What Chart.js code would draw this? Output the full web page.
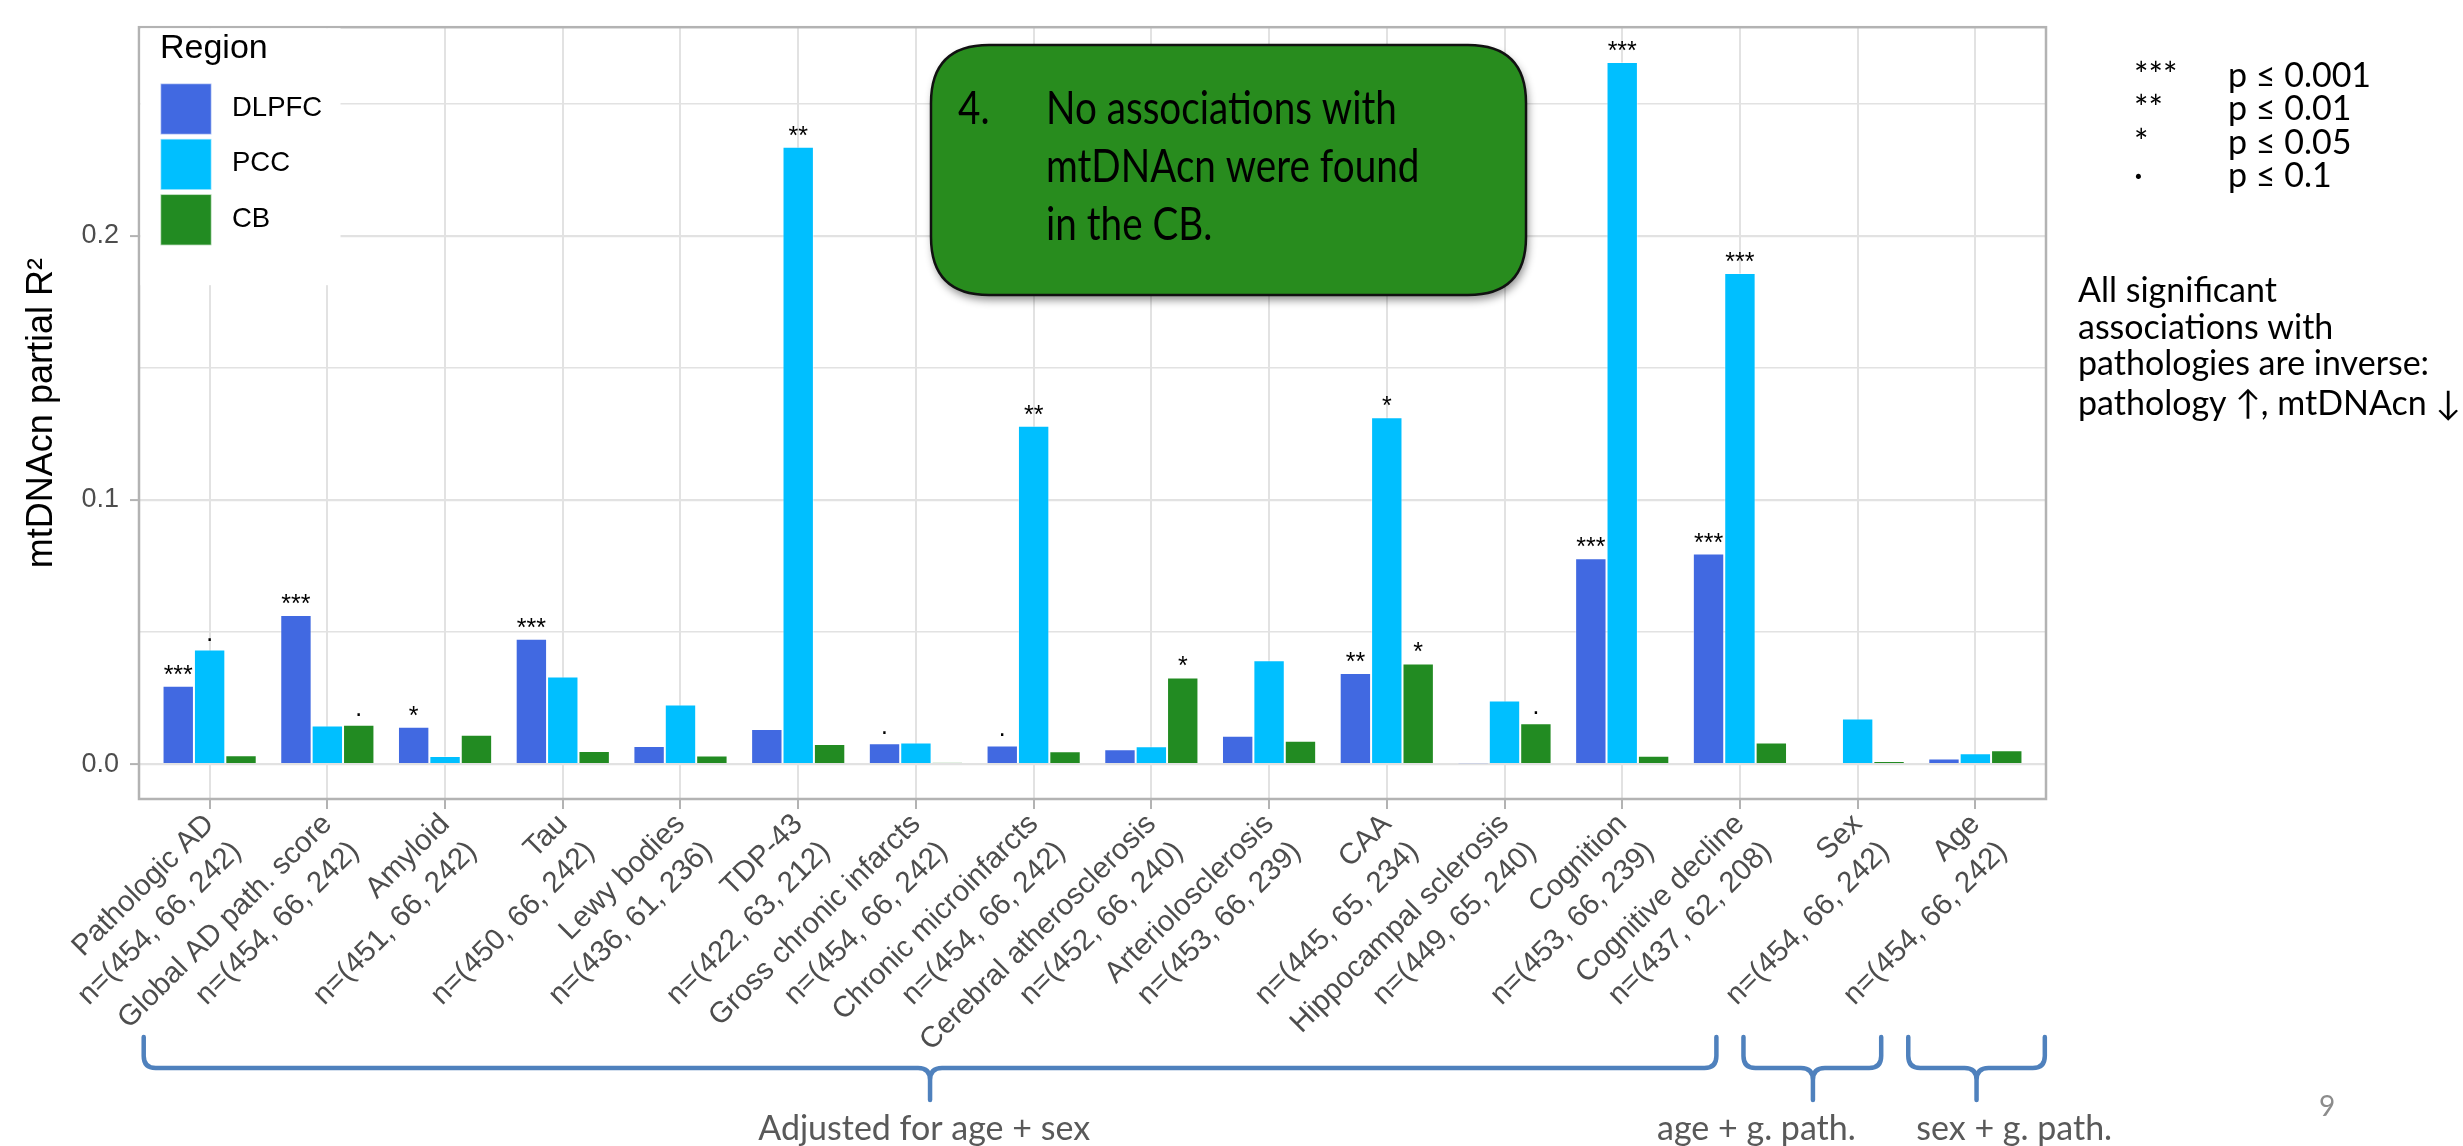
<!DOCTYPE html>
<html>
<head>
<meta charset="utf-8">
<title>mtDNAcn partial R² by region</title>
<script src="https://cdn.jsdelivr.net/npm/chart.js@4.4.1/dist/chart.umd.min.js"></script>
<style>
  html, body { margin: 0; padding: 0; background: #fff; }
  #wrap { position: relative; width: 2463px; height: 1146px; }
</style>
</head>
<body>
<div id="wrap"><canvas id="r2Chart"></canvas></div>
<script>
// ---------------------------------------------------------------
// Data
// ---------------------------------------------------------------
const traitLabels = [
  ['Pathologic AD', 'n=(454, 66, 242)'],
  ['Global AD path. score', 'n=(454, 66, 242)'],
  ['Amyloid', 'n=(451, 66, 242)'],
  ['Tau', 'n=(450, 66, 242)'],
  ['Lewy bodies', 'n=(436, 61, 236)'],
  ['TDP-43', 'n=(422, 63, 212)'],
  ['Gross chronic infarcts', 'n=(454, 66, 242)'],
  ['Chronic microinfarcts', 'n=(454, 66, 242)'],
  ['Cerebral atherosclerosis', 'n=(452, 66, 240)'],
  ['Arteriolosclerosis', 'n=(453, 66, 239)'],
  ['CAA', 'n=(445, 65, 234)'],
  ['Hippocampal sclerosis', 'n=(449, 65, 240)'],
  ['Cognition', 'n=(453, 66, 239)'],
  ['Cognitive decline', 'n=(437, 62, 208)'],
  ['Sex', 'n=(454, 66, 242)'],
  ['Age', 'n=(454, 66, 242)']
];

const regions = ['DLPFC', 'PCC', 'CB'];
const regionColors = ['#4169E1', '#00BFFF', '#228B22'];

const dlpfcR2 = [0.0297, 0.0565, 0.0142, 0.0475, 0.0069, 0.0133, 0.0079, 0.0071,
                 0.0056, 0.0107, 0.0345, 0.0002, 0.0779, 0.0797, 0.0005, 0.0021];
const pccR2   = [0.0434, 0.0146, 0.0031, 0.0332, 0.0226, 0.2337, 0.0082, 0.1281,
                 0.0068, 0.0393, 0.1313, 0.0241, 0.2658, 0.1859, 0.0173, 0.0041];
const cbR2    = [0.0034, 0.0149, 0.0111, 0.0050, 0.0033, 0.0076, 0.0006, 0.0049,
                 0.0328, 0.0089, 0.0381, 0.0155, 0.0032, 0.0082, 0.0012, 0.0053];

// significance marks above each bar
const dlpfcSig = ['***', '***', '*', '***', '', '', '·', '·', '', '', '**', '', '***', '***', '', ''];
const pccSig   = ['·', '', '', '', '', '**', '', '**', '', '', '*', '', '***', '***', '', ''];
const cbSig    = ['', '·', '', '', '', '', '', '', '*', '', '*', '·', '', '', '', ''];

const yMajorTicks = [0, 0.1, 0.2];

// covariate groups drawn under the axis: [from, tip, to] in category units
const adjustGroups = [
  { text: 'Adjusted for age + sex', span: [-0.56, 6.12, 12.8], textX: 6.07 },
  { text: 'age + g. path.', span: [13.03, 13.62, 14.2], textX: 13.14 },
  { text: 'sex + g. path.', span: [14.43, 15.01, 15.59], textX: 15.33 }
];

const pLegend = [['***', 'p ≤ 0.001'], ['**', 'p ≤ 0.01'], ['*', 'p ≤ 0.05'], ['·', 'p ≤ 0.1']];
const noteLines = ['All significant', 'associations with', 'pathologies are inverse:', 'pathology ↑, mtDNAcn ↓'];
const calloutLines = ['No associations with', 'mtDNAcn were found', 'in the CB.'];

// ---------------------------------------------------------------
// Helpers
// ---------------------------------------------------------------
const toPoints = arr => arr.map((v, i) => ({ x: i, y: v }));
const isMajor = v => yMajorTicks.some(t => Math.abs(t - v) < 1e-9);

function roundRect(ctx, x, y, w, h, r) {
  ctx.beginPath();
  ctx.moveTo(x + r, y);
  ctx.lineTo(x + w - r, y);
  ctx.quadraticCurveTo(x + w, y, x + w, y + r);
  ctx.lineTo(x + w, y + h - r);
  ctx.quadraticCurveTo(x + w, y + h, x + w - r, y + h);
  ctx.lineTo(x + r, y + h);
  ctx.quadraticCurveTo(x, y + h, x, y + h - r);
  ctx.lineTo(x, y + r);
  ctx.quadraticCurveTo(x, y, x + r, y);
  ctx.closePath();
}

// ---------------------------------------------------------------
// Panel border, inset legend and significance marks
// ---------------------------------------------------------------
const panelPlugin = {
  id: 'panelPlugin',
  afterDatasetsDraw(chart) {
    const { ctx, chartArea: a } = chart;
    ctx.save();

    // significance stars
    const sigs = [dlpfcSig, pccSig, cbSig];
    ctx.font = '25px "Liberation Sans", Arial, sans-serif';
    ctx.fillStyle = '#000';
    ctx.textAlign = 'center';
    ctx.textBaseline = 'alphabetic';
    sigs.forEach((sig, d) => {
      chart.getDatasetMeta(d).data.forEach((bar, i) => {
        if (sig[i]) ctx.fillText(sig[i], bar.x, bar.y - 3);
      });
    });

    // panel border
    ctx.strokeStyle = '#b3b3b3';
    ctx.lineWidth = 2.5;
    ctx.strokeRect(a.left, a.top, a.right - a.left, a.bottom - a.top);

    // legend box
    ctx.fillStyle = '#fff';
    ctx.fillRect(a.left + 1.5, a.top + 1, 200, 257);
    ctx.fillStyle = '#000';
    ctx.textAlign = 'left';
    ctx.font = '34px "Liberation Sans", Arial, sans-serif';
    ctx.fillText('Region', 160, 58);
    ctx.font = '27.5px "Liberation Sans", Arial, sans-serif';
    ctx.textBaseline = 'middle';
    regions.forEach((r, k) => {
      const ky = 83.5 + k * 55.4;
      ctx.fillStyle = regionColors[k];
      ctx.fillRect(160.5, ky, 51, 51);
      ctx.strokeStyle = 'rgba(255,255,255,0.6)';
      ctx.lineWidth = 1.5;
      ctx.strokeRect(160.5, ky, 51, 51);
      ctx.fillStyle = '#000';
      ctx.fillText(r, 232, ky + 25);
    });
    ctx.restore();
  }
};

// ---------------------------------------------------------------
// Slide annotations around the plot
// ---------------------------------------------------------------
const slidePlugin = {
  id: 'slidePlugin',
  afterDraw(chart) {
    const { ctx } = chart;
    const xs = chart.scales.x;
    ctx.save();

    // callout box
    ctx.save();
    ctx.shadowColor = 'rgba(0,0,0,0.45)';
    ctx.shadowBlur = 9;
    ctx.shadowOffsetX = 2;
    ctx.shadowOffsetY = 5;
    roundRect(ctx, 931, 45, 595, 250, 58);
    ctx.fillStyle = '#288C1E';
    ctx.fill();
    ctx.restore();
    roundRect(ctx, 931, 45, 595, 250, 58);
    ctx.strokeStyle = '#111';
    ctx.lineWidth = 2.5;
    ctx.stroke();

    // callout text, narrow face
    ctx.fillStyle = '#000';
    ctx.textAlign = 'left';
    ctx.textBaseline = 'alphabetic';
    ctx.font = '46px Lato, "Open Sans", sans-serif';
    ctx.save();
    ctx.scale(0.84, 1);
    ctx.fillText('4.', 958 / 0.84, 124);
    calloutLines.forEach((t, i) => ctx.fillText(t, 1046 / 0.84, 124 + i * 58));
    ctx.restore();

    // p-value key
    ctx.font = '34px Lato, "Open Sans", sans-serif';
    pLegend.forEach(([mark, txt], i) => {
      const by = 87 + i * 33.4;
      ctx.fillText(mark, 2134, by);
      ctx.fillText(txt, 2228, by);
    });

    // note
    ctx.font = '34px Lato, "Open Sans", sans-serif';
    noteLines.forEach((t, i) => ctx.fillText(t, 2078, 302 + i * 36.6 + (i === 3 ? 3 : 0)));

    // braces under the axis
    const yTop = 1037, yMid = 1068, yTip = 1100, r = 12;
    ctx.strokeStyle = '#4F81BD';
    ctx.lineWidth = 4.5;
    ctx.lineCap = 'round';
    ctx.lineJoin = 'round';
    adjustGroups.forEach(g => {
      const [x1, xc, x2] = g.span.map(v => xs.getPixelForValue(v));
      ctx.beginPath();
      ctx.moveTo(x1, yTop);
      ctx.lineTo(x1, yMid - r);
      ctx.quadraticCurveTo(x1, yMid, x1 + r, yMid);
      ctx.lineTo(xc - r, yMid);
      ctx.quadraticCurveTo(xc, yMid, xc, yMid + r);
      ctx.lineTo(xc, yTip);
      ctx.moveTo(x2, yTop);
      ctx.lineTo(x2, yMid - r);
      ctx.quadraticCurveTo(x2, yMid, x2 - r, yMid);
      ctx.lineTo(xc + r, yMid);
      ctx.quadraticCurveTo(xc, yMid, xc, yMid + r);
      ctx.stroke();
    });

    ctx.fillStyle = '#595959';
    ctx.textAlign = 'center';
    ctx.font = '34px Lato, "Open Sans", sans-serif';
    adjustGroups.forEach(g => ctx.fillText(g.text, xs.getPixelForValue(g.textX), 1140));

    // slide number
    ctx.fillStyle = '#8c8c8c';
    ctx.font = '28px Lato, "Open Sans", sans-serif';
    ctx.fillText('9', 2327, 1116);
    ctx.restore();
  }
};

// ---------------------------------------------------------------
// Chart
// ---------------------------------------------------------------
const seriesValues = [dlpfcR2, pccR2, cbR2];

new Chart(document.getElementById('r2Chart'), {
  type: 'bar',
  data: {
    datasets: regions.map((r, k) => ({
      label: r,
      data: toPoints(seriesValues[k]),
      backgroundColor: regionColors[k],
      borderColor: 'rgba(255,255,255,0.45)',
      borderWidth: 1,
      categoryPercentage: 0.8,
      barPercentage: 1.0
    }))
  },
  options: {
    responsive: true,
    maintainAspectRatio: false,
    animation: false,
    devicePixelRatio: 1,
    layout: { padding: { left: 0, right: 417, top: 7, bottom: 0 } },
    plugins: {
      legend: { display: false },
      tooltip: { enabled: false }
    },
    scales: {
      x: {
        type: 'linear',
        min: -0.6,
        max: 15.6,
        offset: false,
        border: { display: false },
        grid: {
          offset: false,
          color: '#e2e2e2',
          lineWidth: 2,
          tickColor: '#b3b3b3',
          tickWidth: 2,
          tickLength: 10
        },
        ticks: {
          stepSize: 1,
          includeBounds: false,
          autoSkip: false,
          minRotation: 45,
          maxRotation: 45,
          padding: -3,
          color: '#4d4d4d',
          font: { family: '"Liberation Sans", Arial, sans-serif', size: 29.5, lineHeight: 1.3 },
          callback: v => traitLabels[Math.round(v)] || ''
        },
        afterFit: s => { s.height = 347; }
      },
      y: {
        min: -0.0132,
        max: 0.279,
        border: { display: false },
        grid: {
          color: '#e2e2e2',
          lineWidth: c => (c.tick && isMajor(c.tick.value) ? 2.2 : 1.5),
          tickColor: c => (c.tick && isMajor(c.tick.value) ? '#b3b3b3' : 'rgba(0,0,0,0)'),
          tickWidth: 2,
          tickLength: 9
        },
        ticks: {
          stepSize: 0.05,
          includeBounds: false,
          padding: 11,
          color: '#4d4d4d',
          font: { family: '"Liberation Sans", Arial, sans-serif', size: 27 },
          callback: v => (isMajor(v) ? v.toFixed(1) : '')
        },
        title: {
          display: true,
          text: 'mtDNAcn partial R²',
          color: '#000',
          padding: { top: 20, bottom: 0 },
          font: { family: '"Liberation Sans", Arial, sans-serif', size: 36 }
        },
        afterFit: s => { s.width = 139; }
      }
    }
  },
  plugins: [panelPlugin, slidePlugin]
});
</script>
</body>
</html>
